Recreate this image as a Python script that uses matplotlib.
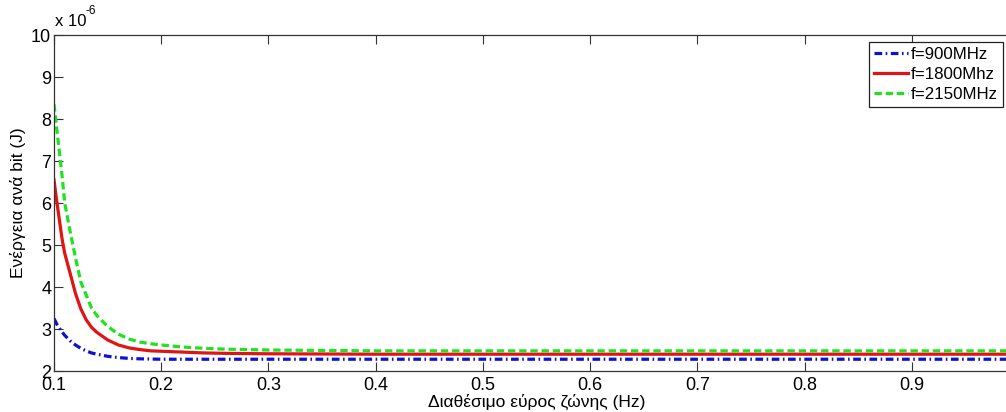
import numpy as np
import matplotlib.pyplot as plt

plt.rcParams['font.family'] = ['Liberation Sans', 'DejaVu Sans']

# bandwidth (Hz) and energy per bit (x 1e-6 J)
bandwidth = [0.100, 0.1025, 0.105, 0.1075, 0.110, 0.115, 0.120, 0.125, 0.130,
             0.135, 0.140, 0.150, 0.160, 0.170, 0.180, 0.190, 0.200, 0.220,
             0.240, 0.260, 0.300, 0.400, 0.500, 0.600, 0.700, 0.800, 0.900,
             1.000]
e_900 = [3.25, 3.12, 3.02, 2.93, 2.85, 2.72, 2.62, 2.54, 2.48,
         2.43, 2.40, 2.35, 2.32, 2.30, 2.29, 2.285, 2.28, 2.28,
         2.28, 2.28, 2.28, 2.28, 2.28, 2.28, 2.28, 2.28, 2.28,
         2.28]
e_1800 = [6.55, 6.05, 5.60, 5.15, 4.80, 4.33, 3.85, 3.48, 3.22,
          3.04, 2.92, 2.74, 2.62, 2.55, 2.51, 2.48, 2.47, 2.45,
          2.43, 2.42, 2.41, 2.40, 2.40, 2.40, 2.40, 2.40, 2.40,
          2.40]
e_2150 = [8.35, 7.78, 7.22, 6.65, 6.00, 5.33, 4.70, 4.12, 3.81,
          3.50, 3.32, 3.06, 2.88, 2.76, 2.69, 2.65, 2.62, 2.57,
          2.54, 2.52, 2.50, 2.48, 2.48, 2.48, 2.48, 2.48, 2.48,
          2.48]
labels = ['f=900MHz', 'f=1800Mhz', 'f=2150MHz']

fig = plt.figure(figsize=(10.06, 4.12), dpi=100)
ax = fig.add_axes([54 / 1006, 41 / 412, 965 / 1006, 336 / 412])

ax.plot(bandwidth, e_900, color='#0c12d0', lw=2.3,
        linestyle=(0, (2.4, 1.1, 0.5, 1.1)), label=labels[0])
ax.plot(bandwidth, e_1800, color='#e01414', lw=2.3, label=labels[1])
ax.plot(bandwidth, e_2150, color='#22e022', lw=2.3,
        linestyle=(0, (2.3, 1.2)), label=labels[2])

ax.set_xlim(0.1, 1.0)
ax.set_ylim(2, 10)
ax.set_xticks(np.arange(0.1, 1.01, 0.1))
# the label at 1 falls outside the picture
ax.set_xticklabels(['0.1', '0.2', '0.3', '0.4', '0.5', '0.6', '0.7', '0.8', '0.9', ''])
ax.set_yticks(range(2, 11))
ax.tick_params(direction='in', length=6.5, width=0.8, top=True, right=True,
               labelsize=13, color='#333333')
ax.tick_params(axis='x', pad=4)
ax.tick_params(axis='y', pad=2)
for s in ax.spines.values():
    s.set_color('#333333')
    s.set_linewidth(0.9)

ax.set_xlabel('Διαθέσιμο εύρος ζώνης (Hz)', fontsize=12.5, labelpad=0)
ax.set_ylabel('Ενέργεια ανά bit (J)', fontsize=12.5, labelpad=4)

fig.text(55 / 1006, 1 - 21 / 412, 'x 10', fontsize=12, va='center', ha='left')
fig.text(86 / 1006, 1 - 11 / 412, '-6', fontsize=8.5, va='center', ha='left')

leg = ax.legend(loc='upper right', bbox_to_anchor=(1003 / 1006, 1 - 42 / 412),
                bbox_transform=fig.transFigure, fancybox=False, framealpha=1,
                edgecolor='#222222', fontsize=12.2, handlelength=2.0,
                handletextpad=0.15, labelspacing=0.3, borderpad=0.3,
                borderaxespad=0)
leg.get_frame().set_linewidth(0.9)

fig.savefig('out.png', dpi=100)
